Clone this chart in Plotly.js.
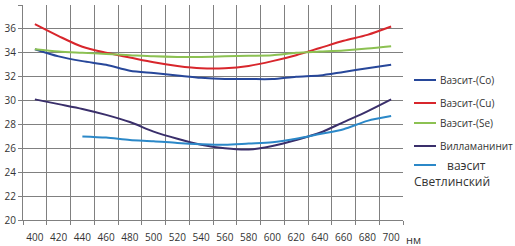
<!DOCTYPE html>
<html>
<head>
<meta charset="utf-8">
<script src="https://cdn.plot.ly/plotly-3.0.1.min.js"></script>
<style>html,body{margin:0;padding:0;background:#fff}#chart{width:515px;height:246px}</style>
</head>
<body>
<div id="chart"></div>
<script>
var wavelengths = ['400','420','440','460','480','500','520','540','560','580','600','620','640','660','680','700'];
var seriesNames = ['Ваэсит-(Co)','Ваэсит-(Cu)','Ваэсит-(Se)','Вилламанинит','ваэсит'];
var vaesiteCo = [34.3,33.7,33.3,33.0,32.5,32.3,32.1,31.9,31.8,31.8,31.8,32.0,32.1,32.4,32.7,33.0];
var vaesiteCu = [36.4,35.4,34.5,34.0,33.6,33.2,32.9,32.7,32.7,32.9,33.3,33.8,34.4,35.0,35.5,36.2];
var vaesiteSe = [34.3,34.1,34.0,33.9,33.8,33.7,33.65,33.65,33.7,33.75,33.8,34.0,34.1,34.2,34.35,34.55];
var villamaninite = [30.1,29.7,29.3,28.8,28.2,27.4,26.8,26.3,26.0,25.9,26.2,26.7,27.3,28.2,29.1,30.1];
var svetlinsky = [null,null,27.0,26.9,26.7,26.6,26.45,26.35,26.3,26.4,26.5,26.8,27.2,27.6,28.3,28.7];
var colors = ['#27479a','#d8262c','#8cc152','#3a2f6b','#2b88c8'];
var allValues = [vaesiteCo, vaesiteCu, vaesiteSe, villamaninite, svetlinsky];

var traces = allValues.map(function(v,i){
  return {x: wavelengths, y: v, type:'scatter', mode:'lines', name: seriesNames[i],
    connectgaps:false, showlegend:false,
    line:{color: colors[i], width: 2, shape:'spline', smoothing:0.8}};
});

// custom legend (plot area spans 23..403 px horizontally, 5..220 px vertically)
function px2x(px){ return (px-23)/380; }
function py2y(py){ return (220-py)/215; }
var legendY = [80, 103, 123, 146, 165];
var shapes = [], annotations = [];
legendY.forEach(function(py,i){
  shapes.push({type:'line', xref:'paper', yref:'paper', x0:px2x(414), x1:px2x(436),
    y0:py2y(py), y1:py2y(py), line:{color:colors[i], width:2}});
  var last = (i===4);
  annotations.push({xref:'paper', yref:'paper', x:px2x(last?445:438), y:py2y(py),
    xanchor:'left', yanchor:'middle', showarrow:false, text:seriesNames[i],
    font:{size:last?12:10, color:'#333'}});
});
annotations.push({xref:'paper', yref:'paper', x:px2x(412), y:py2y(181), xanchor:'left', yanchor:'middle',
  showarrow:false, text:'Светлинский', font:{size:12, color:'#333'}});
annotations.push({xref:'paper', yref:'paper', x:1.0, y:0, xanchor:'left', yanchor:'middle', yshift:-19, xshift:1,
  text:'нм', showarrow:false, font:{size:11, color:'#333'}});

var layout = {
  width:515, height:246,
  margin:{l:23, r:112, t:5, b:26, pad:0},
  paper_bgcolor:'#fff', plot_bgcolor:'#fff',
  font:{family:'Open Sans, Noto Sans, sans-serif', size:10, color:'#333'},
  showlegend:false,
  xaxis:{type:'category', tickson:'boundaries', showgrid:true, gridcolor:'#808080', gridwidth:1,
    showline:true, linecolor:'#808080', ticks:'outside', ticklen:4, tickcolor:'#808080',
    ticklabelstandoff:8, automargin:false,
    tickangle:0, tickfont:{size:10, color:'#333'}, range:[-0.5,15.5], zeroline:false, fixedrange:true},
  yaxis:{range:[20,38], dtick:2, tick0:20, showgrid:true, gridcolor:'#808080', gridwidth:1,
    showline:true, linecolor:'#808080', ticks:'outside', ticklen:4, tickcolor:'#808080',
    tickfont:{size:10, color:'#333'}, zeroline:false, fixedrange:true},
  shapes: shapes,
  annotations: annotations
};
Plotly.newPlot('chart', traces, layout, {staticPlot:true, displayModeBar:false});
</script>
</body>
</html>
